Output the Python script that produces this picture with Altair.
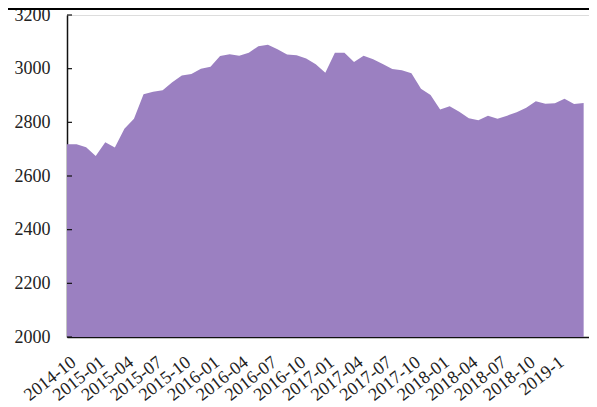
import json
import altair as alt
import pandas as pd

# Monthly series, 2014-10 .. 2019-04
months = [d.strftime("%Y-%m") for d in pd.date_range("2014-10-01", periods=55, freq="MS")]
values = [
    2718, 2718, 2707, 2675, 2726, 2706, 2776, 2813, 2905, 2914,
    2920, 2949, 2975, 2980, 3000, 3007, 3047, 3054, 3048, 3059,
    3084, 3089, 3072, 3053, 3050, 3038, 3016, 2985, 3059, 3059,
    3025, 3048, 3035, 3017, 2999, 2994, 2983, 2925, 2902, 2848,
    2860, 2839, 2815, 2808, 2825, 2813, 2825, 2838, 2854, 2879,
    2869, 2871, 2888, 2868, 2872,
]
tick_labels = [
    "2014-10", "2015-01", "2015-04", "2015-07", "2015-10", "2016-01",
    "2016-04", "2016-07", "2016-10", "2017-01", "2017-04", "2017-07",
    "2017-10", "2018-01", "2018-04", "2018-07", "2018-10", "2019-1",
]
y_ticks = [2000, 2200, 2400, 2600, 2800, 3000, 3200]

df = pd.DataFrame({"idx": list(range(len(values))), "month": months, "value": values})
ticks_df = pd.DataFrame({"t": y_ticks})

FONT = "Liberation Serif"
W, H = 522, 322

x_enc = alt.X(
    "idx:Q",
    scale=alt.Scale(domain=[0, 54.56], nice=False, zero=False),
    axis=alt.Axis(
        values=list(range(0, 3 * len(tick_labels), 3)),
        labelExpr=f"{json.dumps(tick_labels)}[round(datum.value / 3)]",
        title=None, grid=False, ticks=False, tickSize=0,
        labelAngle=322, labelAlign="right", labelBaseline="top",
        labelPadding=16, labelOffset=1, labelFont=FONT, labelFontSize=18,
        labelColor="#222222", domainColor="#111111", domainWidth=1.5,
        labelOverlap=False, labelBound=False, labelFlush=False,
    ),
)
y_scale = alt.Scale(domain=[2000, 3200], nice=False, zero=False)

area = alt.Chart(df).mark_area(color="#9b80c1", opacity=1, clip=True).encode(
    x=x_enc,
    y=alt.Y(
        "value:Q", scale=y_scale,
        axis=alt.Axis(
            values=y_ticks, format="d", title=None, grid=False, ticks=False, tickSize=0,
            labelPadding=17, labelFont=FONT, labelFontSize=18,
            labelColor="#222222", domainColor="#111111", domainWidth=1.5,
        ),
    ),
    y2=alt.datum(2000),
)

inner_ticks = alt.Chart(ticks_df).mark_rule(color="#111111", strokeWidth=1.2).encode(
    y=alt.Y("t:Q", scale=y_scale),
    x=alt.value(0),
    x2=alt.value(5),
)

top_line = alt.Chart(ticks_df).mark_rule(color="#000000", strokeWidth=2.5).encode(
    x=alt.value(-59), x2=alt.value(W), y=alt.value(-6.5)
)

chart = alt.layer(area, inner_ticks, top_line).properties(
    width=W, height=H,
    autosize=alt.AutoSizeParams(type="none"),
    padding={"left": 59, "top": 7, "right": 0, "bottom": 70},
).configure_view(stroke=None).configure(background="white")

chart.save("out.html", embed_options={"renderer": "svg", "actions": False})
